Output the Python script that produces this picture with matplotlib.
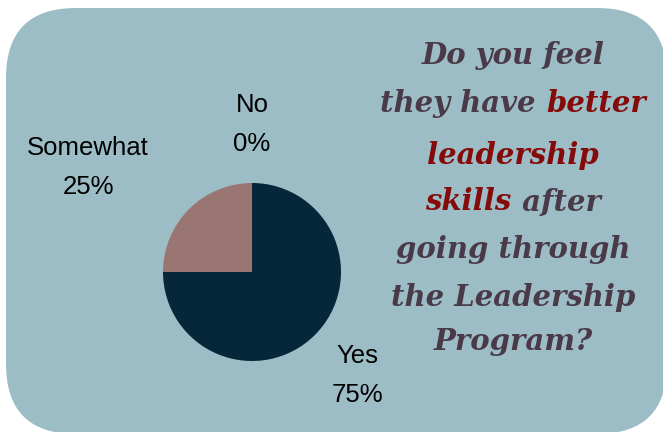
import matplotlib.pyplot as plt
from matplotlib.patches import FancyBboxPatch

# data
categories = ['Yes', 'Somewhat', 'No']
values = [75, 25, 0]
colors = ['#06263a', '#9a7672', '#9dbdc6']

# title pieces: (text, highlighted?)
title_lines = [
    [('Do you feel', False)],
    [('they have ', False), ('better', True)],
    [('leadership', True)],
    [('skills', True), (' after', False)],
    [('going through', False)],
    [('the Leadership', False)],
    [('Program?', False)],
]

W, H = 663, 432
fig = plt.figure(figsize=(W / 100, H / 100), dpi=100)
fig.patch.set_facecolor('white')

# background axes in pixel coordinates
bg = fig.add_axes([0, 0, 1, 1])
bg.set_xlim(0, W)
bg.set_ylim(H, 0)
bg.axis('off')
rad = 70
box = FancyBboxPatch((6 + rad, 8 + rad), 667 - 6 - 2 * rad, 434 - 8 - 2 * rad,
                     boxstyle=f'round,pad={rad}', fc='#9dbdc6', ec='none')
bg.add_patch(box)

# pie
cx, cy, r = 252, 272, 89
pax = fig.add_axes([(cx - r) / W, (H - cy - r) / H, 2 * r / W, 2 * r / H])
pax.pie(values, colors=colors, startangle=90, counterclock=False,
        wedgeprops=dict(linewidth=0))
pax.set_xlim(-1, 1)
pax.set_ylim(-1, 1)
pax.set_aspect('equal')

lab_font = dict(fontsize=18.5, family='Liberation Sans', color='black', ha='center', va='center')
label_pos = {'Yes': (357, 356), 'Somewhat': (88, 148), 'No': (252, 105)}
for cat, val in zip(categories, values):
    x, y = label_pos[cat]
    bg.text(x, y, cat, **lab_font)
    bg.text(x, y + 39, f'{val}%', **lab_font)

# title with mixed colours
tfont = dict(fontsize=21, family='DejaVu Serif', fontweight='heavy', style='italic', va='center')
fig.canvas.draw()
renderer = fig.canvas.get_renderer()
line_y = [55, 103, 155, 202, 249, 297, 342]
tcx = 513
for pieces, y in zip(title_lines, line_y):
    texts = []
    for s, hi in pieces:
        t = bg.text(0, y, s, color='#850a0a' if hi else '#4a3a48', ha='left', **tfont)
        texts.append(t)
    widths = [t.get_window_extent(renderer).width for t in texts]
    x = tcx - sum(widths) / 2
    for t, w in zip(texts, widths):
        t.set_x(x)
        x += w

fig.savefig('out.png', dpi=100)
